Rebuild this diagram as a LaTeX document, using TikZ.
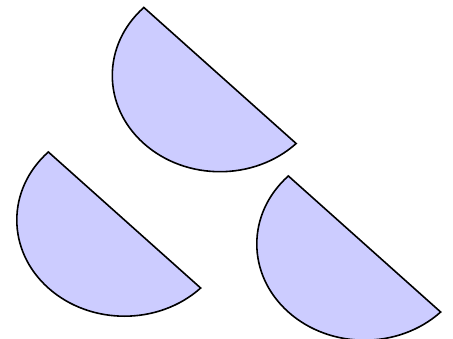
\documentclass[tikz,border=0pt]{standalone}
\usepackage{tikz}
\begin{document}
\begin{tikzpicture}[
  x=1pt, y=1pt,
  half/.style={draw=black, fill=blue!20, line width=1.6pt, line join=miter},
]
\useasboundingbox (0,0) rectangle (453,338);
% three rotated half discs
\draw[half, shift={(220,262.5)}] (135:107.7 and 96.2)
  arc[start angle=135, end angle=315, x radius=107.7, y radius=96.2] -- cycle;
\draw[half, shift={(124.5,118)}] (135:107.7 and 96.2)
  arc[start angle=135, end angle=315, x radius=107.7, y radius=96.2] -- cycle;
\draw[half, shift={(364.5,94)}] (135:107.7 and 96.2)
  arc[start angle=135, end angle=315, x radius=107.7, y radius=96.2] -- cycle;
\end{tikzpicture}
\end{document}
